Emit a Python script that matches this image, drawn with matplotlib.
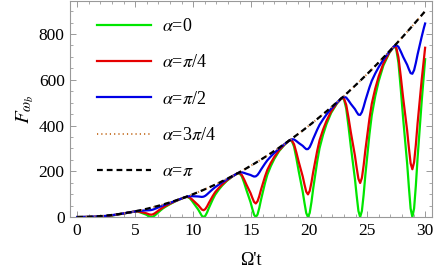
import matplotlib
matplotlib.use('Agg')
import matplotlib.pyplot as plt
from matplotlib.ticker import MultipleLocator

plt.rcParams['font.family'] = 'Liberation Serif'
plt.rcParams['mathtext.fontset'] = 'stix'

# time axis (Omega' t), sampled denser around the dips
t = [0, 0.5, 1.0, 1.5,
     1.9, 2.05, 2.2, 2.35, 2.5, 2.7, 2.9, 3.2, 3.5, 3.9, 4.4, 4.8, 5.0, 5.2, 5.4, 5.6, 5.8, 5.95, 6.1, 6.25,
     6.4, 6.55, 6.7, 6.85, 7.0, 7.2, 7.4, 7.7, 8.0, 8.4, 8.9, 9.3, 9.5, 9.7, 9.9, 10.1, 10.3, 10.45, 10.6, 10.75,
     10.9, 11.05, 11.2, 11.35, 11.5, 11.7, 11.9, 12.2, 12.5, 12.9, 13.4, 13.8, 14.0, 14.2, 14.4, 14.6, 14.8, 14.95, 15.1, 15.25,
     15.4, 15.55, 15.7, 15.85, 16.0, 16.2, 16.4, 16.7, 17.0, 17.4, 17.9, 18.3, 18.5, 18.7, 18.9, 19.1, 19.3, 19.45, 19.6, 19.75,
     19.9, 20.05, 20.2, 20.35, 20.5, 20.7, 20.9, 21.2, 21.5, 21.9, 22.4, 22.8, 23.0, 23.2, 23.4, 23.6, 23.8, 23.95, 24.1, 24.25,
     24.4, 24.55, 24.7, 24.85, 25.0, 25.2, 25.4, 25.7, 26.0, 26.4, 26.9, 27.3, 27.5, 27.7, 27.9, 28.1, 28.3, 28.45, 28.6, 28.75,
     28.9, 29.05, 29.2, 29.35, 29.5, 29.7, 29.9, 30.0]

f_0 = [0, 0.25, 0.6, 0.27,
       0, 0.2, 0.8, 1.7, 2.6, 4.2, 5.8, 8.2, 10.8, 14.5, 19.2, 23.0, 24.4, 23.8, 21.0, 17.3, 13.5, 10.3, 6.0, 1.8,
       0, 1.9, 7.2, 14.1, 20.6, 29.6, 37.8, 47.4, 56.3, 67.0, 78.4, 86.5, 88.0, 82.8, 70.6, 56.1, 42.4, 31.7, 18.0, 5.2,
       0, 5.5, 20.1, 38.7, 55.6, 78.0, 97.7, 119.1, 137.5, 158.1, 177.8, 190.4, 191.1, 177.4, 149.3, 117.2, 87.6, 64.8, 36.5, 10.5,
       0, 10.9, 39.4, 75.4, 107.5, 149.6, 185.6, 223.1, 254.3, 287.6, 317.2, 334.9, 333.7, 307.7, 257.2, 200.7, 149.0, 109.7, 61.5, 17.6,
       0, 18.1, 65.3, 124.2, 176.5, 244.2, 301.4, 359.6, 406.8, 455.6, 496.7, 519.8, 515.8, 473.7, 394.2, 306.3, 226.6, 166.3, 92.9, 26.5,
       0, 27.1, 97.6, 185.3, 262.5, 362.0, 445.2, 528.4, 594.9, 662.1, 716.4, 745.3, 737.3, 675.2, 560.5, 434.3, 320.4, 234.7, 130.9, 37.2,
       0, 38.0, 136.4, 258.4, 365.5, 502.8, 625.0, 690.0]

f_pi4 = [0, 0.25, 0.75, 0.85,
         0.9, 1.2, 1.8, 2.6, 3.5, 4.9, 6.5, 8.7, 11.2, 14.6, 19.2, 23.0, 24.5, 24.6, 23.0, 20.8, 18.5, 16.6, 13.8, 11.1,
         10.2, 12.2, 16.6, 22.3, 27.7, 35.1, 42.0, 50.4, 58.2, 67.9, 78.6, 86.5, 88.5, 85.6, 77.4, 67.6, 58.4, 51.1, 41.6, 32.8,
         29.7, 34.7, 46.4, 61.2, 74.7, 92.7, 108.7, 126.5, 142.2, 160.2, 178.2, 190.4, 192.3, 183.5, 163.8, 141.2, 120.5, 104.5, 84.4, 66.1,
         59.3, 68.7, 91.2, 119.3, 144.6, 177.8, 206.4, 237.1, 263.0, 291.4, 318.0, 334.9, 335.8, 318.2, 282.2, 241.7, 204.9, 176.9, 142.1, 110.8,
         99.0, 114.2, 151.0, 196.7, 237.4, 290.3, 335.3, 382.0, 420.7, 461.6, 498.0, 519.8, 518.9, 489.8, 432.6, 369.0, 311.5, 268.2, 214.9, 167.0,
         148.8, 171.2, 225.7, 293.3, 353.1, 430.2, 495.2, 561.4, 615.2, 670.8, 718.2, 745.3, 741.9, 698.2, 614.9, 523.1, 440.5, 378.4, 302.7, 234.7,
         208.8, 239.7, 315.5, 409.2, 491.7, 597.6, 690.0, 740.0]

f_pi2 = [0, 0.25, 0.9, 1.8,
         2.7, 3.2, 3.8, 4.6, 5.3, 6.5, 7.8, 9.7, 11.9, 15.0, 19.3, 23.0, 24.9, 26.2, 27.1, 27.8, 28.6, 29.1, 29.4, 29.7,
         30.7, 32.7, 35.5, 38.7, 41.9, 46.3, 50.5, 56.3, 62.1, 69.7, 79.0, 86.5, 89.7, 91.3, 91.2, 90.5, 90.2, 89.8, 88.8, 87.9,
         89.1, 92.9, 99.1, 106.3, 113.1, 122.2, 130.6, 141.4, 151.6, 164.3, 179.1, 190.4, 194.8, 195.6, 192.8, 189.2, 186.2, 183.8, 180.1, 177.0,
         177.9, 184.0, 194.7, 207.3, 218.9, 234.2, 248.1, 265.0, 280.3, 299.0, 319.6, 334.9, 340.2, 339.2, 332.2, 323.8, 316.6, 311.2, 303.5, 296.8,
         297.0, 305.9, 322.4, 341.7, 359.3, 382.4, 403.0, 427.0, 448.4, 473.6, 500.5, 519.8, 525.8, 522.1, 509.2, 494.3, 481.5, 471.8, 458.8, 447.5,
         446.5, 458.7, 482.0, 509.5, 534.4, 566.8, 595.2, 627.5, 655.7, 688.3, 721.8, 745.3, 751.7, 744.3, 723.9, 700.8, 680.8, 665.7, 646.2, 629.0,
         626.4, 642.2, 673.6, 710.7, 744.1, 787.3, 828.0, 846.0]

f_pi = [0, 0.25, 1.0, 2.25,
        3.6, 4.2, 4.8, 5.5, 6.3, 7.3, 8.4, 10.2, 12.3, 15.2, 19.4, 23.0, 25.0, 27.0, 29.2, 31.4, 33.6, 35.4, 37.2, 39.1,
        41.0, 42.9, 44.9, 46.9, 49.0, 51.8, 54.8, 59.3, 64.0, 70.6, 79.2, 86.5, 90.3, 94.1, 98.0, 102.0, 106.1, 109.2, 112.4, 115.6,
        118.8, 122.1, 125.4, 128.8, 132.3, 136.9, 141.6, 148.8, 156.3, 166.4, 179.6, 190.4, 196.0, 201.6, 207.4, 213.2, 219.0, 223.5, 228.0, 232.6,
        237.2, 241.8, 246.5, 251.2, 256.0, 262.4, 269.0, 278.9, 289.0, 302.8, 320.4, 334.9, 342.3, 349.7, 357.2, 364.8, 372.5, 378.3, 384.2, 390.1,
        396.0, 402.0, 408.0, 414.1, 420.3, 428.5, 436.8, 449.4, 462.3, 479.6, 501.8, 519.8, 529.0, 538.2, 547.6, 557.0, 566.4, 573.6, 580.8, 588.1,
        595.4, 602.7, 610.1, 617.5, 625.0, 635.0, 645.2, 660.5, 676.0, 697.0, 723.6, 745.3, 756.3, 767.3, 778.4, 789.6, 800.9, 809.4, 818.0, 826.6,
        835.2, 843.9, 852.6, 861.4, 870.3, 882.1, 894.0, 900.0]

# alpha = 3pi/4 lies on top of the alpha = pi curve
f_3pi4 = f_pi

fig, ax = plt.subplots(figsize=(4.36, 2.73), dpi=100)
fig.subplots_adjust(left=0.161, right=0.991, bottom=0.205, top=0.996)

ax.plot(t, f_0, color='#00e600', lw=1.6, label=r'$\alpha$=0')
ax.plot(t, f_pi4, color='#e60000', lw=1.6, label=r'$\alpha$=$\pi$/4')
ax.plot(t, f_pi2, color='#0000e6', lw=1.6, label=r'$\alpha$=$\pi$/2')
ax.plot(t, f_3pi4, color='#c87832', lw=1.4, ls=(0, (0.6, 1.6)), label=r'$\alpha$=3$\pi$/4')
ax.plot(t, f_pi, color='black', lw=1.6, ls=(0, (2.6, 1.8)), label=r'$\alpha$=$\pi$')

ax.set_xlim(-0.6, 30.6)
ax.set_ylim(0, 944)
ax.xaxis.set_major_locator(MultipleLocator(5))
ax.xaxis.set_minor_locator(MultipleLocator(1))
ax.yaxis.set_major_locator(MultipleLocator(200))
ax.yaxis.set_minor_locator(MultipleLocator(50))
ax.tick_params(which='both', direction='in', top=True, right=True,
               color='#999999', labelsize=12.5, pad=4)
ax.tick_params(which='major', length=4.5, width=0.7)
ax.tick_params(which='minor', length=2.5, width=0.6)
for s in ax.spines.values():
    s.set_color('#999999')
    s.set_linewidth(0.8)

ax.set_xlabel("\u03a9't", fontsize=13, labelpad=10)
ax.set_ylabel(r'$F_{\omega_b}$', fontsize=15, labelpad=2)

ax.legend(loc='upper left', bbox_to_anchor=(0.055, 0.955), frameon=False,
          fontsize=13, handlelength=3.0, handletextpad=0.6, labelspacing=1.07,
          borderaxespad=0)

plt.savefig('out.png', dpi=100)
